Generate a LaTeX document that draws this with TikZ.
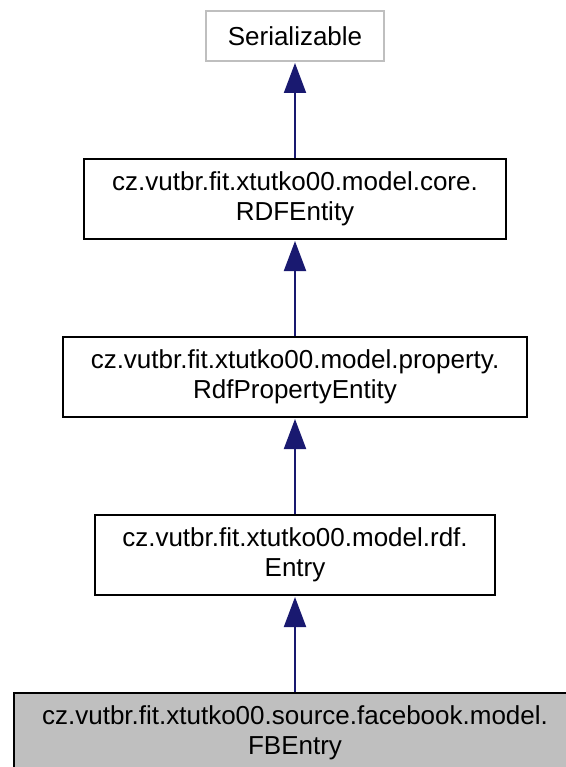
\documentclass[tikz,border=0pt]{standalone}
\usepackage{fontspec}
\setmainfont{Liberation Sans}
\usetikzlibrary{arrows.meta}
\definecolor{edgeblue}{HTML}{191970}
\definecolor{grayborder}{HTML}{BFBFBF}
\definecolor{grayfill}{HTML}{BFBFBF}
\begin{document}
\begin{tikzpicture}[x=1pt,y=1pt,
  cls/.style={draw=black, line width=2pt, rectangle, inner sep=0pt, align=center,
    font=\fontsize{26}{30}\selectfont, minimum height=80pt},
  ext/.style={draw=grayborder, line width=2pt, rectangle, inner sep=0pt, align=center,
    font=\fontsize{26}{30}\selectfont, minimum height=50pt},
  cur/.style={cls, fill=grayfill},
  inh/.style={draw=edgeblue, line width=2pt, -{Triangle[length=30pt,width=22pt]}, shorten >=1pt}
]
\useasboundingbox (0,0) rectangle (565,-767);
\node[ext, minimum width=178pt] (ser) at (295,-36) {Serializable};
\node[cls, minimum width=422pt] (rdf) at (295,-199) {cz.vutbr.fit.xtutko00.model.core.\\RDFEntity};
\node[cls, minimum width=464pt] (prop) at (295,-377) {cz.vutbr.fit.xtutko00.model.property.\\RdfPropertyEntity};
\node[cls, minimum width=400pt] (entry) at (295,-555) {cz.vutbr.fit.xtutko00.model.rdf.\\Entry};
\node[cur, minimum width=562pt] (fb) at (295,-733) {cz.vutbr.fit.xtutko00.source.facebook.model.\\FBEntry};
\draw[inh] (rdf.north) -- (ser.south);
\draw[inh] (prop.north) -- (rdf.south);
\draw[inh] (entry.north) -- (prop.south);
\draw[inh] (fb.north) -- (entry.south);
\end{tikzpicture}
\end{document}
